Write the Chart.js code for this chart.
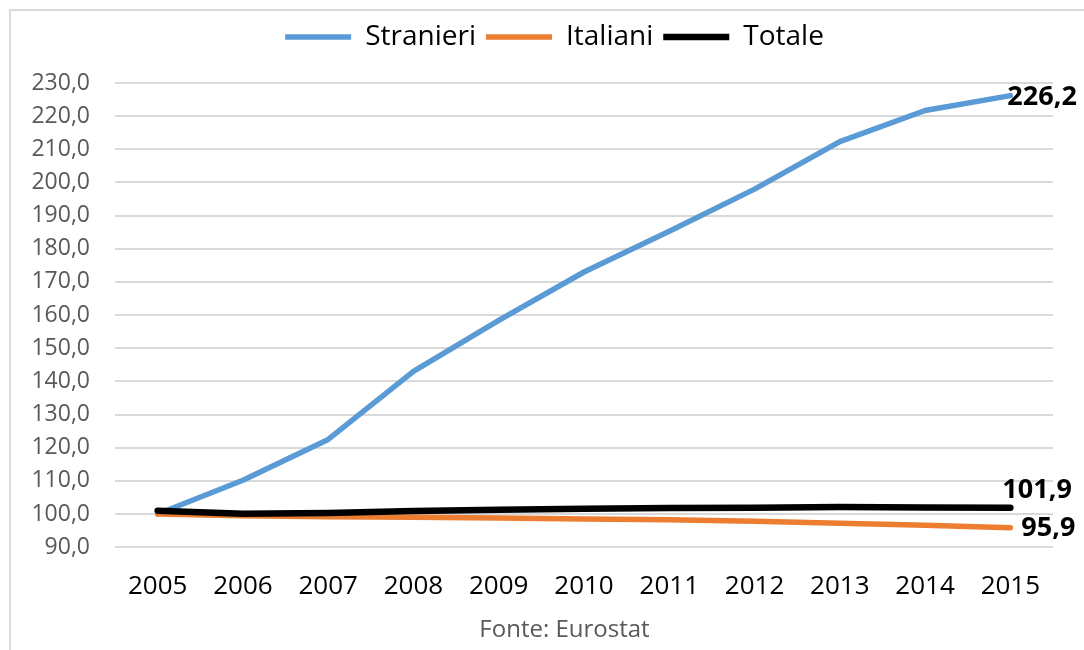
<!DOCTYPE html>
<html>
<head>
<meta charset="utf-8">
<script src="https://cdn.jsdelivr.net/npm/chart.js@4/dist/chart.umd.min.js"></script>
<style>
  html, body { margin: 0; padding: 0; background: #fff; }
  #wrap { position: relative; width: 1084px; height: 650px; overflow: hidden; }
  #frame { position: absolute; left: 9px; top: 9px; width: 1200px; height: 800px;
           border-left: 2px solid #d9d9d9; border-top: 2px solid #d9d9d9; }
  canvas { position: absolute; left: 0; top: 0; }
</style>
</head>
<body>
<div id="wrap">
  <div id="frame"></div>
  <canvas id="chart" width="1084" height="650"></canvas>
</div>
<script>
// dati (indice, Eurostat)
const anni = ['2005', '2006', '2007', '2008', '2009', '2010', '2011', '2012', '2013', '2014', '2015'];
const stranieri = [100.0, 110.2, 122.5, 143.0, 158.4, 173.0, 185.3, 198.0, 212.3, 221.7, 226.2];
const italiani = [100.0, 99.5, 99.2, 99.0, 98.8, 98.5, 98.3, 97.8, 97.2, 96.6, 95.9];
const totale = [101.0, 100.1, 100.3, 100.9, 101.3, 101.6, 101.8, 101.9, 102.1, 102.0, 101.9];

const fmt = v => v.toFixed(1).replace('.', ',');

// etichetta sull'ultimo punto di ogni serie
const lastLabels = {
  id: 'lastLabels',
  afterDatasetsDraw(chart) {
    const offs = [
      { dx: -3, dy: 2 },
      { dx: 11, dy: 1 },
      { dx: -8, dy: -17 }
    ];
    const ctx = chart.ctx;
    ctx.save();
    ctx.font = 'bold 27px "Open Sans"';
    ctx.fillStyle = '#000';
    ctx.textAlign = 'left';
    ctx.textBaseline = 'middle';
    chart.data.datasets.forEach((ds, i) => {
      const meta = chart.getDatasetMeta(i);
      const pt = meta.data[meta.data.length - 1];
      ctx.fillText(fmt(ds.data[ds.data.length - 1]), pt.x + offs[i].dx, pt.y + offs[i].dy);
    });
    ctx.restore();
  }
};

// spazio sotto la legenda, legenda e fonte un po' spostate a destra come in Excel
const layoutTweaks = {
  id: 'layoutTweaks',
  afterInit(chart) {
    const fit = chart.legend.fit;
    chart.legend.fit = function () {
      fit.call(this);
      this.height += 22;
    };
  },
  afterLayout(chart) {
    chart.legend.left += 28;
    chart.legend.right += 28;
    const sub = chart.boxes.find(b => b.options && b.options.text === 'Fonte: Eurostat');
    if (sub) {
      sub.left += 38;
      sub.right += 38;
    }
  }
};

new Chart(document.getElementById('chart'), {
  type: 'line',
  data: {
    labels: anni,
    datasets: [
      { label: 'Stranieri', data: stranieri, borderColor: '#5b9bd5', backgroundColor: '#5b9bd5', borderWidth: 5.5, order: 2 },
      { label: 'Italiani', data: italiani, borderColor: '#ed7d31', backgroundColor: '#ed7d31', borderWidth: 5.5, order: 1 },
      { label: 'Totale', data: totale, borderColor: '#000000', backgroundColor: '#000000', borderWidth: 6.5, order: 0 }
    ]
  },
  options: {
    responsive: false,
    animation: false,
    elements: {
      point: { radius: 0, hoverRadius: 0 },
      line: { tension: 0, borderCapStyle: 'round', borderJoinStyle: 'round' }
    },
    layout: { padding: { left: 0, right: 31, top: 13, bottom: 0 } },
    plugins: {
      tooltip: { enabled: false },
      legend: {
        position: 'top',
        labels: {
          usePointStyle: true,
          pointStyle: 'line',
          pointStyleWidth: 66,
          padding: 10,
          color: '#000',
          font: { family: '"Open Sans"', size: 28 },
          sort: (a, b) => a.datasetIndex - b.datasetIndex
        }
      },
      subtitle: {
        display: true,
        position: 'bottom',
        text: 'Fonte: Eurostat',
        color: '#595959',
        font: { family: '"Open Sans"', size: 24, weight: 'normal' },
        padding: { top: 0, bottom: 5 }
      }
    },
    scales: {
      x: {
        offset: true,
        grid: { display: false, drawTicks: false },
        border: { display: false },
        ticks: { color: '#000', padding: 24, font: { family: '"Open Sans"', size: 26 } },
        afterFit(scale) { scale.height = 69; }
      },
      y: {
        min: 90,
        max: 230,
        grid: { color: '#d9d9d9', lineWidth: 2, drawTicks: false },
        border: { display: false },
        ticks: {
          stepSize: 10,
          padding: 25,
          color: '#595959',
          font: { family: '"Open Sans"', size: 23 },
          callback: v => fmt(v)
        },
        afterFit(scale) { scale.width = 115; }
      }
    }
  },
  plugins: [lastLabels, layoutTweaks]
});
</script>
</body>
</html>
